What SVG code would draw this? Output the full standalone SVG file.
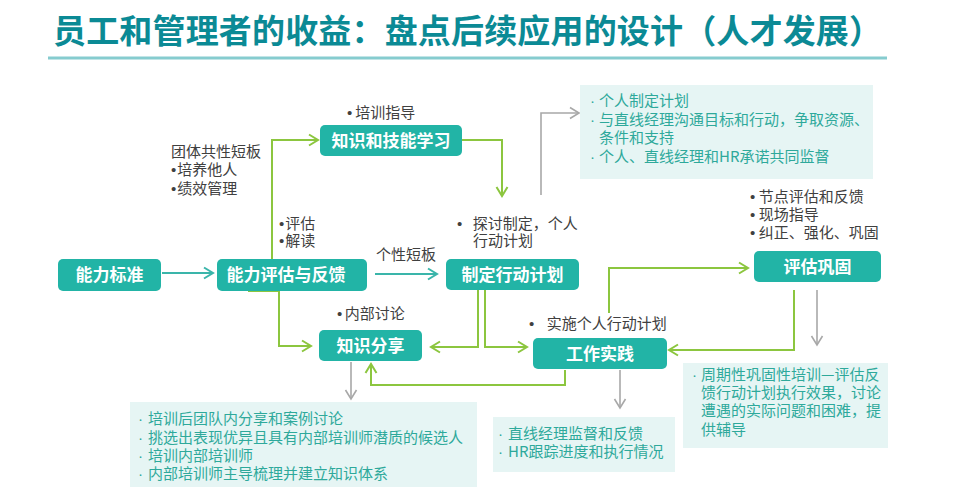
<svg xmlns="http://www.w3.org/2000/svg" width="969" height="493" viewBox="0 0 969 493">
<style>
text{font-family:"Noto Sans CJK SC","Noto Sans",sans-serif;}
.title{font-size:33px;font-weight:700;fill:#0b8a95;}
.node rect{fill:#22b4a6;}
.nt{font-size:17px;font-weight:700;fill:#ffffff;text-anchor:middle;}
.lbl{font-size:15px;fill:#404040;}
.box{fill:#e6f5f4;}
.bt{font-size:15px;fill:#2ea99b;}
.b{font-family:"Liberation Sans",Arial,sans-serif;}
.g{fill:none;stroke:#8cc63f;stroke-width:2;}
.t{fill:none;stroke:#3ab5aa;stroke-width:2;}
.gr{fill:none;stroke:#a8a8a8;stroke-width:1.6;}
</style>
<defs>
<marker id="ag" markerWidth="14" markerHeight="14" refX="10" refY="6" orient="auto" markerUnits="userSpaceOnUse" overflow="visible"><path d="M1,0.5 L10,6 L1,11.5" fill="none" stroke="#8cc63f" stroke-width="2"/></marker>
<marker id="at" markerWidth="14" markerHeight="14" refX="10" refY="6" orient="auto" markerUnits="userSpaceOnUse" overflow="visible"><path d="M1,0.5 L10,6 L1,11.5" fill="none" stroke="#3ab5aa" stroke-width="2"/></marker>
<marker id="agr" markerWidth="14" markerHeight="14" refX="10" refY="6" orient="auto" markerUnits="userSpaceOnUse" overflow="visible"><path d="M1,0.5 L10,6 L1,11.5" fill="none" stroke="#a8a8a8" stroke-width="1.6"/></marker>
</defs>
<rect width="969" height="493" fill="#ffffff"/>
<g id="title">
<text class="title" x="53" y="43" textLength="829" lengthAdjust="spacing">员工和管理者的收益：盘点后续应用的设计（人才发展）</text>
<line x1="48" y1="58" x2="887" y2="58" stroke="#86cccf" stroke-width="3"/>
</g>
<g id="connectors">
<path class="t" d="M162,273 H213" marker-end="url(#at)"/>
<path class="t" d="M375,274 H437" marker-end="url(#at)"/>
<path class="g" d="M272,259 V140 H318" marker-end="url(#ag)"/>
<path class="g" d="M462,140 H502 V196" marker-end="url(#ag)"/>
<path class="g" d="M248,291 H279 V346 H311" marker-end="url(#ag)"/>
<path class="g" d="M478,290 V347 H431" marker-end="url(#ag)"/>
<path class="g" d="M485,290 V347 H527" marker-end="url(#ag)"/>
<path class="g" d="M609,313 V268 H748" marker-end="url(#ag)"/>
<path class="g" d="M794,290 V350 H669" marker-end="url(#ag)"/>
<path class="g" d="M565,370 V385 H371 V364" marker-end="url(#ag)"/>
<path class="gr" d="M541,195 V113 H579" marker-end="url(#agr)"/>
<path class="gr" d="M817,290 V345" marker-end="url(#agr)"/>
<path class="gr" d="M620,370 V408" marker-end="url(#agr)"/>
<path class="gr" d="M351,362 V399" marker-end="url(#agr)"/>
</g>
<g id="labels">
<text class="lbl" x="171" y="157">团体共性短板</text>
<text class="lbl" x="171" y="175"><tspan class="b">•</tspan><tspan dx="1">培养他人</tspan></text>
<text class="lbl" x="171" y="194"><tspan class="b">•</tspan><tspan dx="1">绩效管理</tspan></text>
<text class="lbl" x="279" y="229"><tspan class="b">•</tspan><tspan dx="1">评估</tspan></text>
<text class="lbl" x="279" y="246"><tspan class="b">•</tspan><tspan dx="1">解读</tspan></text>
<text class="lbl" x="347" y="118"><tspan class="b">•</tspan><tspan dx="3">培训指导</tspan></text>
<text class="lbl" x="376" y="260">个性短板</text>
<text class="lbl" x="457" y="229"><tspan class="b">•</tspan><tspan dx="10.5">探讨制定，个人</tspan></text>
<text class="lbl" x="473" y="246">行动计划</text>
<text class="lbl" x="337" y="319"><tspan class="b">•</tspan><tspan dx="2.5">内部讨论</tspan></text>
<text class="lbl" x="529" y="329"><tspan class="b">•</tspan><tspan dx="12.5">实施个人行动计划</tspan></text>
<text class="lbl" x="750" y="202"><tspan class="b">•</tspan><tspan dx="3.5">节点评估和反馈</tspan></text>
<text class="lbl" x="750" y="220"><tspan class="b">•</tspan><tspan dx="3.5">现场指导</tspan></text>
<text class="lbl" x="750" y="238"><tspan class="b">•</tspan><tspan dx="3.5">纠正、强化、巩固</tspan></text>
</g>
<g id="node-nengli-biaozhun" class="node"><rect x="58" y="259" width="103" height="32" rx="5"/><text class="nt" x="109.5" y="281">能力标准</text></g>
<g id="node-nengli-pinggu" class="node"><rect x="217" y="259" width="150" height="32" rx="5"/><text class="nt" x="286" y="281">能力评估与反馈</text></g>
<g id="node-zhishi-jineng" class="node"><rect x="320" y="125" width="142" height="31" rx="5"/><text class="nt" x="391" y="146.5">知识和技能学习</text></g>
<g id="node-zhiding-jihua" class="node"><rect x="446" y="259" width="133" height="31" rx="5"/><text class="nt" x="512.5" y="280.5">制定行动计划</text></g>
<g id="node-zhishi-fenxiang" class="node"><rect x="319" y="330" width="103" height="31" rx="5"/><text class="nt" x="370.5" y="351.5">知识分享</text></g>
<g id="node-gongzuo-shijian" class="node"><rect x="533" y="338" width="134" height="31" rx="5"/><text class="nt" x="600" y="359.5">工作实践</text></g>
<g id="node-pinggu-gonggu" class="node"><rect x="754" y="251" width="127" height="31" rx="5"/><text class="nt" x="817.5" y="272.5">评估巩固</text></g>
<g id="box-top">
<rect class="box" x="580" y="85" width="293" height="94"/>
<text class="bt" x="590" y="106"><tspan class="b">·</tspan><tspan dx="4">个人制定计划</tspan></text>
<text class="bt" x="590" y="125"><tspan class="b">·</tspan><tspan dx="4">与直线经理沟通目标和行动，争取资源、</tspan></text>
<text class="bt" x="599" y="143">条件和支持</text>
<text class="bt" x="590" y="162"><tspan class="b">·</tspan><tspan dx="4">个人、直线经理和HR承诺共同监督</tspan></text>
</g>
<g id="box-bottom-left">
<rect class="box" x="130" y="402" width="347" height="85"/>
<text class="bt" x="138" y="424"><tspan class="b">·</tspan><tspan dx="5">培训后团队内分享和案例讨论</tspan></text>
<text class="bt" x="138" y="443"><tspan class="b">·</tspan><tspan dx="5">挑选出表现优异且具有内部培训师潜质的候选人</tspan></text>
<text class="bt" x="138" y="461"><tspan class="b">·</tspan><tspan dx="5">培训内部培训师</tspan></text>
<text class="bt" x="138" y="479"><tspan class="b">·</tspan><tspan dx="5">内部培训师主导梳理并建立知识体系</tspan></text>
</g>
<g id="box-bottom-mid">
<rect class="box" x="493" y="417" width="182" height="55"/>
<text class="bt" x="498" y="439"><tspan class="b">·</tspan><tspan dx="5">直线经理监督和反馈</tspan></text>
<text class="bt" x="498" y="457"><tspan class="b">·</tspan><tspan dx="5">HR跟踪进度和执行情况</tspan></text>
</g>
<g id="box-right">
<rect class="box" x="683" y="363" width="205" height="85"/>
<text class="bt" x="692" y="380"><tspan class="b">·</tspan><tspan dx="4">周期性巩固性培训—评估反</tspan></text>
<text class="bt" x="701" y="398">馈行动计划执行效果，讨论</text>
<text class="bt" x="701" y="416">遭遇的实际问题和困难，提</text>
<text class="bt" x="701" y="435">供辅导</text>
</g>
</svg>
